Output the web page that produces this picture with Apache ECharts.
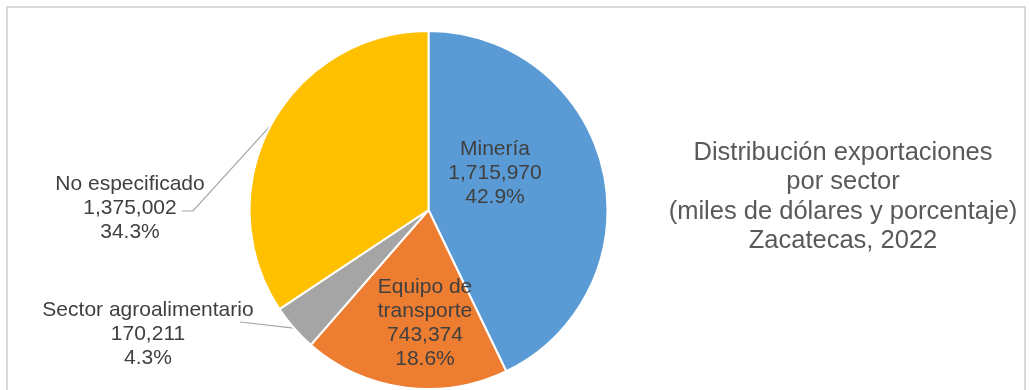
<!DOCTYPE html>
<html>
<head>
<meta charset="utf-8">
<script src="https://cdn.jsdelivr.net/npm/echarts@6/dist/echarts.min.js"></script>
<style>
html,body{margin:0;padding:0;background:#fff;width:1029px;height:390px;overflow:hidden;}
#chart{position:absolute;left:0;top:0;width:1029px;height:390px;}
#frame{position:absolute;left:6px;top:6px;width:1016px;height:420px;border:2px solid #d9d9d9;pointer-events:none;}
</style>
</head>
<body>
<div id="chart"></div>
<div id="frame"></div>
<script>
const categories = ['Minería', 'Equipo de transporte', 'Sector agroalimentario', 'No especificado'];
const labelNames = ['Minería', 'Equipo de\ntransporte', 'Sector agroalimentario', 'No especificado'];
const values = [1715970, 743374, 170211, 1375002];
const titleLines = ['Distribución exportaciones', 'por sector', '(miles de dólares y porcentaje)', 'Zacatecas, 2022'];

// layout / style (kept separate from data)
const colors = ['#5B9BD5', '#ED7D31', '#A5A5A5', '#FFC000'];
const insideLabel = [true, true, false, false];
const labelPos = [[495, 173], [425, 323], [148, 334], [130, 208]];
// leader-line bend and end, as offsets from the label centre
const leaderBend = [null, null, [92, -12], [63, 3]];
const leaderEnd = [null, null, [92, -12], [52, 3]];

const total = values.reduce((a, b) => a + b, 0);
const FONT = "'Liberation Sans', Arial, sans-serif";

const chart = echarts.init(document.getElementById('chart'), null, {renderer: 'canvas'});
chart.setOption({
  animation: false,
  color: colors,
  graphic: [{
    type: 'text',
    x: 843,
    y: 138,
    style: {
      text: titleLines.join('\n'),
      fill: '#595959',
      font: '25.5px ' + FONT,
      lineHeight: 29.5,
      align: 'center',
      verticalAlign: 'top'
    }
  }],
  series: [{
    type: 'pie',
    center: [428.5, 210],
    radius: 179,
    startAngle: 90,
    clockwise: true,
    avoidLabelOverlap: false,
    itemStyle: {borderColor: '#ffffff', borderWidth: 2},
    label: {
      fontFamily: FONT,
      fontSize: 21,
      lineHeight: 24,
      color: '#404040',
      align: 'center',
      formatter: function (p) {
        const i = p.dataIndex;
        return labelNames[i] + '\n' + values[i].toLocaleString('en-US') + '\n' + (values[i] / total * 100).toFixed(1) + '%';
      }
    },
    labelLine: {show: true, length: 20, length2: 0, lineStyle: {color: '#a6a6a6', width: 1.2}},
    labelLayout: function (p) {
      const i = p.dataIndex;
      const pos = labelPos[i];
      const res = {x: pos[0], y: pos[1], align: 'center', verticalAlign: 'middle'};
      if (!insideLabel[i] && p.labelLinePoints && p.labelLinePoints.length) {
        const start = p.labelLinePoints[0];
        res.labelLinePoints = [
          [start[0], start[1]],
          [pos[0] + leaderBend[i][0], pos[1] + leaderBend[i][1]],
          [pos[0] + leaderEnd[i][0], pos[1] + leaderEnd[i][1]]
        ];
      }
      return res;
    },
    data: categories.map((c, i) => ({
      name: c,
      value: values[i],
      label: {position: insideLabel[i] ? 'inside' : 'outside'},
      labelLine: {show: !insideLabel[i]}
    }))
  }]
});
</script>
</body>
</html>
